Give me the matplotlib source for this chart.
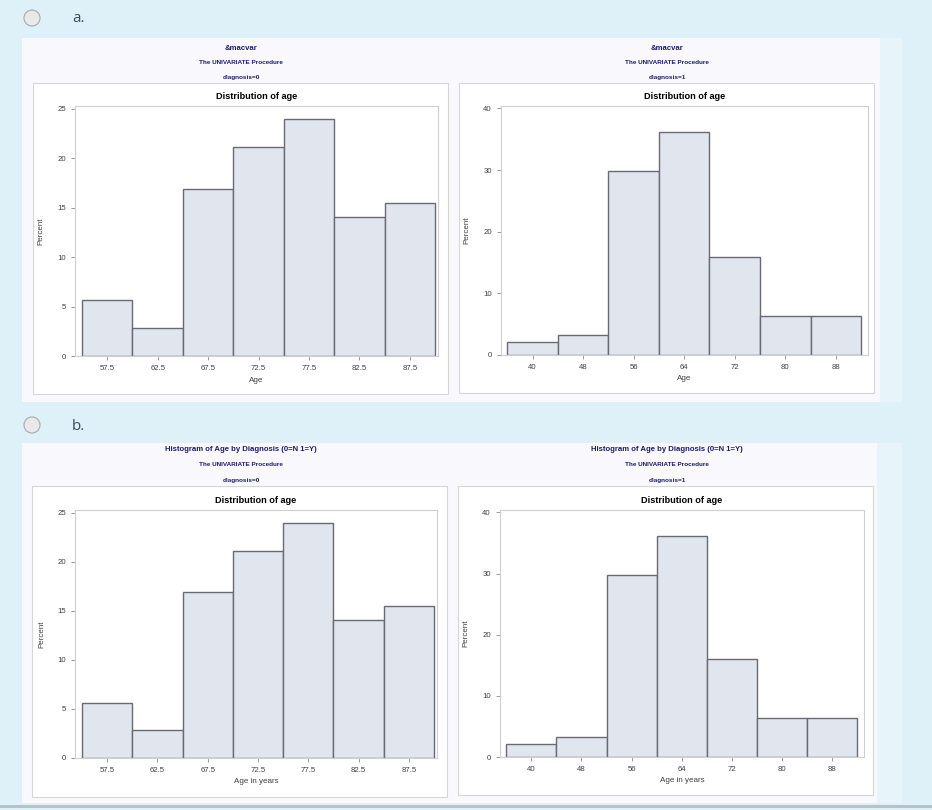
import matplotlib
matplotlib.use("Agg")
import matplotlib.pyplot as plt
from matplotlib.patches import Rectangle, Ellipse

W, H = 932, 810

# percent of patients per age bin
no_centers = [57.5, 62.5, 67.5, 72.5, 77.5, 82.5, 87.5]
no_percent = [5.63, 2.82, 16.90, 21.13, 23.94, 14.08, 15.49]
yes_centers = [40, 48, 56, 64, 72, 80, 88]
yes_percent = [2.13, 3.19, 29.79, 36.17, 15.96, 6.38, 6.38]

options = ["a.", "b."]
top_titles = ["&macvar", "Histogram of Age by Diagnosis (0=N 1=Y)"]
x_labels = ["Age", "Age in years"]
groups = ["diagnosis=0", "diagnosis=1"]

SAS_FONT = "Liberation Sans"
NAVY = "#1d1d70"
BAR_FILL = "#e0e5ee"
BAR_EDGE = "#6a6a72"


def fx(x):
    return x / W


def fy(y):
    return 1 - y / H


def rect(x0, y0, x1, y1, **kw):
    fig.patches.append(Rectangle((fx(x0), fy(y1)), (x1 - x0) / W, (y1 - y0) / H,
                                 transform=fig.transFigure, zorder=-5, **kw))


def ax_rect(x0, y0, x1, y1):
    return [fx(x0), fy(y1), (x1 - x0) / W, (y1 - y0) / H]


fig = plt.figure(figsize=(W / 100, H / 100), dpi=100)
fig.patch.set_facecolor("#dff1f8")

# option images
rect(22, 38, 880, 402, facecolor="#f9f9fd", edgecolor="none")
rect(880, 38, 902, 402, facecolor="#e7f5fa", edgecolor="none")
rect(22, 443, 877, 803, facecolor="#f9f9fd", edgecolor="none")
rect(877, 443, 902, 803, facecolor="#e7f5fa", edgecolor="none")
rect(0, 805, 932, 808, facecolor="#b8c2c7", edgecolor="none")

boxes = [
    [(33, 83, 448, 394), (459, 83, 874, 393)],
    [(32, 486, 447, 797), (458, 486, 873, 795)],
]
axes_px = [
    [(75, 106, 438, 356), (501, 106, 868, 355)],
    [(75, 510, 437, 758), (500, 510, 864, 757)],
]
opt_y = [18, 425]
title_y = [[48, 62, 77], [449, 464, 481]]
title_x = [241, 667]

for i in range(2):
    # radio button and option letter
    fig.patches.append(Ellipse((fx(32), fy(opt_y[i])), 16 / W, 16 / H,
                               transform=fig.transFigure, zorder=-4,
                               facecolor="#e9e9e9", edgecolor="#a8a8a8", lw=0.8))
    fig.text(fx(72), fy(opt_y[i] + 1), options[i], fontsize=11, family="Open Sans",
             color="#3c4b5c", va="center", ha="left")

    for j in range(2):
        bx = boxes[i][j]
        rect(bx[0], bx[1], bx[2], bx[3], facecolor="white", edgecolor="#d6d6d6", lw=0.8)

        tx = title_x[j]
        fig.text(fx(tx), fy(title_y[i][0]), top_titles[i], fontsize=5.6, weight="bold",
                 family=SAS_FONT, color=NAVY, ha="center", va="center")
        fig.text(fx(tx), fy(title_y[i][1]), "The UNIVARIATE Procedure", fontsize=4.6,
                 weight="bold", family=SAS_FONT, color=NAVY, ha="center", va="center")
        fig.text(fx(tx), fy(title_y[i][2]), groups[j], fontsize=4.6, weight="bold",
                 family=SAS_FONT, color=NAVY, ha="center", va="center")

        ax = fig.add_axes(ax_rect(*axes_px[i][j]))
        if j == 0:
            centers, vals, bw = no_centers, no_percent, 5
            ax.set_xlim(54.3, 90.3)
            ax.set_ylim(0, 25.3)
            ax.set_yticks([0, 5, 10, 15, 20, 25])
            ax.set_xticks(centers)
            ax.set_xticklabels([str(c) for c in centers])
        else:
            centers, vals, bw = yes_centers, yes_percent, 8
            ax.set_xlim(35.0, 93.1)
            ax.set_ylim(0, 40.4)
            ax.set_yticks([0, 10, 20, 30, 40])
            ax.set_xticks(centers)

        ax.bar(centers, vals, width=bw, color=BAR_FILL, edgecolor=BAR_EDGE, lw=1.0, zorder=2)

        for s in ax.spines.values():
            s.set_color("#cfcfcf")
            s.set_linewidth(0.8)
        ax.tick_params(length=3, width=0.6, color="#8a8a8a", labelsize=5.6,
                       labelcolor="#404040", pad=3.5)
        for lab in ax.get_xticklabels() + ax.get_yticklabels():
            lab.set_family(SAS_FONT)

        ax.set_title("Distribution of age", fontsize=6.6, weight="bold", family=SAS_FONT,
                     color="black", pad=5)
        ax.set_ylabel("Percent", fontsize=5.8, family=SAS_FONT, color="#404040")
        ax.yaxis.set_label_coords(-0.083, 0.5)
        ax.set_xlabel(x_labels[i], fontsize=5.8, family=SAS_FONT, color="#404040")
        ax.xaxis.set_label_coords(0.5, -0.082)

fig.savefig("out.png", dpi=100, facecolor=fig.get_facecolor())
